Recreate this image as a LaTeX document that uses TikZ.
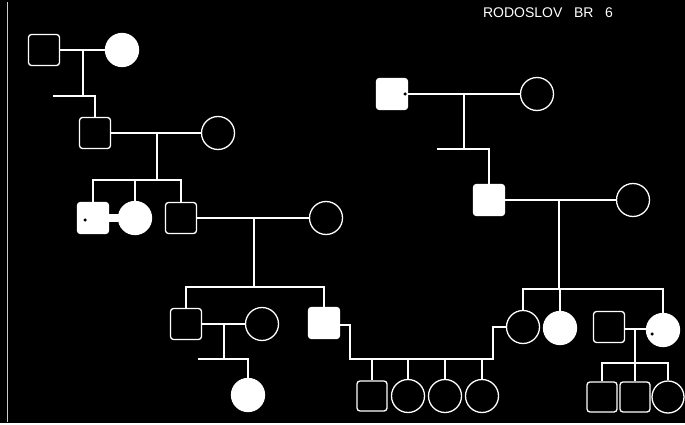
\documentclass[tikz,border=0pt]{standalone}
\usepackage{fontspec}
\setmainfont{Liberation Sans}
\begin{document}
\begin{tikzpicture}[x=1pt,y=-1pt,
  ln/.style={draw=white,line width=1.3pt},
  sq/.style={draw=white,line width=1.3pt,rounded corners=3pt,minimum size=31pt,inner sep=0pt},
  ci/.style={draw=white,line width=1.3pt,circle,minimum size=33pt,inner sep=0pt},
  aff/.style={fill=white},
  dotm/.style={circle,fill=black,inner sep=0pt,minimum size=3.5pt}]
\useasboundingbox (0,0) rectangle (685,425);
\fill[black] (0,0) rectangle (685,425);
\fill[white] (0,422.5) rectangle (685,425);
\draw[white!80!black,line width=0.8pt] (7,2) -- (7,422);
\node[text=white,font=\fontsize{14}{16}\selectfont] (title) at (548,13) {RODOSLOV\ \ \ BR\ \ \ 6};
% generation I
\node[sq] (I1) at (44,50) {};
\node[ci,aff] (I2) at (122,50) {};
% generation II
\node[sq] (II1) at (95,133) {};
\node[ci] (II2) at (218,133) {};
% generation III
\node[sq,aff] (III1) at (93,218) {};
\node[dotm] (d1) at (85,220) {};
\node[ci,aff] (III2) at (135,218) {};
\node[sq] (III3) at (181,218) {};
\node[ci] (III4) at (326,218) {};
% generation IV
\node[sq] (IV1) at (186,324) {};
\node[ci] (IV2) at (262,324) {};
\node[sq,aff] (IV3) at (324,323) {};
% generation V
\node[ci,aff] (V1) at (248,395) {};
% right family
\node[sq,aff] (R1) at (392,94) {};
\node[dotm] (d2) at (405,94) {};
\node[ci] (R2) at (537,94) {};
\node[sq,aff] (R3) at (489,200) {};
\node[ci] (R4) at (633,200) {};
\node[ci] (R5) at (523,327) {};
\node[ci,aff] (R6) at (560,328) {};
\node[sq] (R7) at (609,327) {};
\node[ci,aff] (R8) at (663,330) {};
\node[dotm] (d3) at (652,334) {};
% children of IV3 + R5
\node[sq,minimum size=30pt] (C1) at (372,396) {};
\node[ci] (C2) at (408,396) {};
\node[ci] (C3) at (445,396) {};
\node[ci] (C4) at (482,396) {};
% children of R7 + R8
\node[sq,minimum size=30pt] (D1) at (602,397) {};
\node[sq,minimum size=30pt] (D2) at (635,397) {};
\node[ci,minimum size=32pt] (D3) at (668,397) {};
% coordinates
\coordinate (m1) at (83,50);
\coordinate (s1) at (83,96);
\coordinate (s1l) at (53,96);
\coordinate (m2) at (157,133);
\coordinate (s2) at (157,180);
\coordinate (m3) at (254,218);
\coordinate (s3) at (254,287);
\coordinate (m4) at (224,324);
\coordinate (s4) at (224,359);
\coordinate (s4l) at (198,359);
\coordinate (k1) at (350,325);
\coordinate (k2) at (350,359);
\coordinate (k3) at (493,359);
\coordinate (k4) at (493,327);
\coordinate (m5) at (464,94);
\coordinate (s5) at (464,149);
\coordinate (s5l) at (437,149);
\coordinate (m6) at (559,200);
\coordinate (s6) at (559,289);
\coordinate (m7) at (635,329);
\coordinate (s7) at (635,363);
% connectors
\draw[ln] (I1.east) -- (I2.west);
\draw[ln] (m1) -- (s1);
\draw[ln] (s1l) -- (s1) -| (II1.north);
\draw[ln] (II1.east) -- (II2.west);
\draw[ln] (m2) -- (s2);
\draw[ln] (III1.north) |- (s2) -| (III3.north);
\draw[ln] (s2 -| III2.north) -- (III2.north);
\draw[white,line width=8pt] (III1.east) -- (III2.west);
\draw[ln] (III3.east) -- (III4.west);
\draw[ln] (m3) -- (s3);
\draw[ln] (IV1.north) |- (s3) -| (IV3.north);
\draw[ln] (IV1.east) -- (IV2.west);
\draw[ln] (m4) -- (s4);
\draw[ln] (s4l) -- (s4) -| (V1.north);
\draw[ln] (IV3.east |- k1) -- (k1) -- (k2) -- (k3) -- (k4) -- (R5.west);
\foreach \c in {C1,C2,C3,C4} \draw[ln] (k2 -| \c.north) -- (\c.north);
\draw[ln] (R1.east) -- (R2.west);
\draw[ln] (m5) -- (s5);
\draw[ln] (s5l) -- (s5) -| (R3.north);
\draw[ln] (R3.east) -- (R4.west);
\draw[ln] (m6) -- (s6);
\draw[ln] (R5.north) |- (s6) -| (R8.north);
\draw[ln] (s6 -| R6.north) -- (R6.north);
\draw[ln] (R7.east |- m7) -- (R8.west |- m7);
\draw[ln] (m7) -- (s7);
\draw[ln] (D1.north) |- (s7) -| (D3.north);
\draw[ln] (s7 -| D2.north) -- (D2.north);
\end{tikzpicture}
\end{document}
